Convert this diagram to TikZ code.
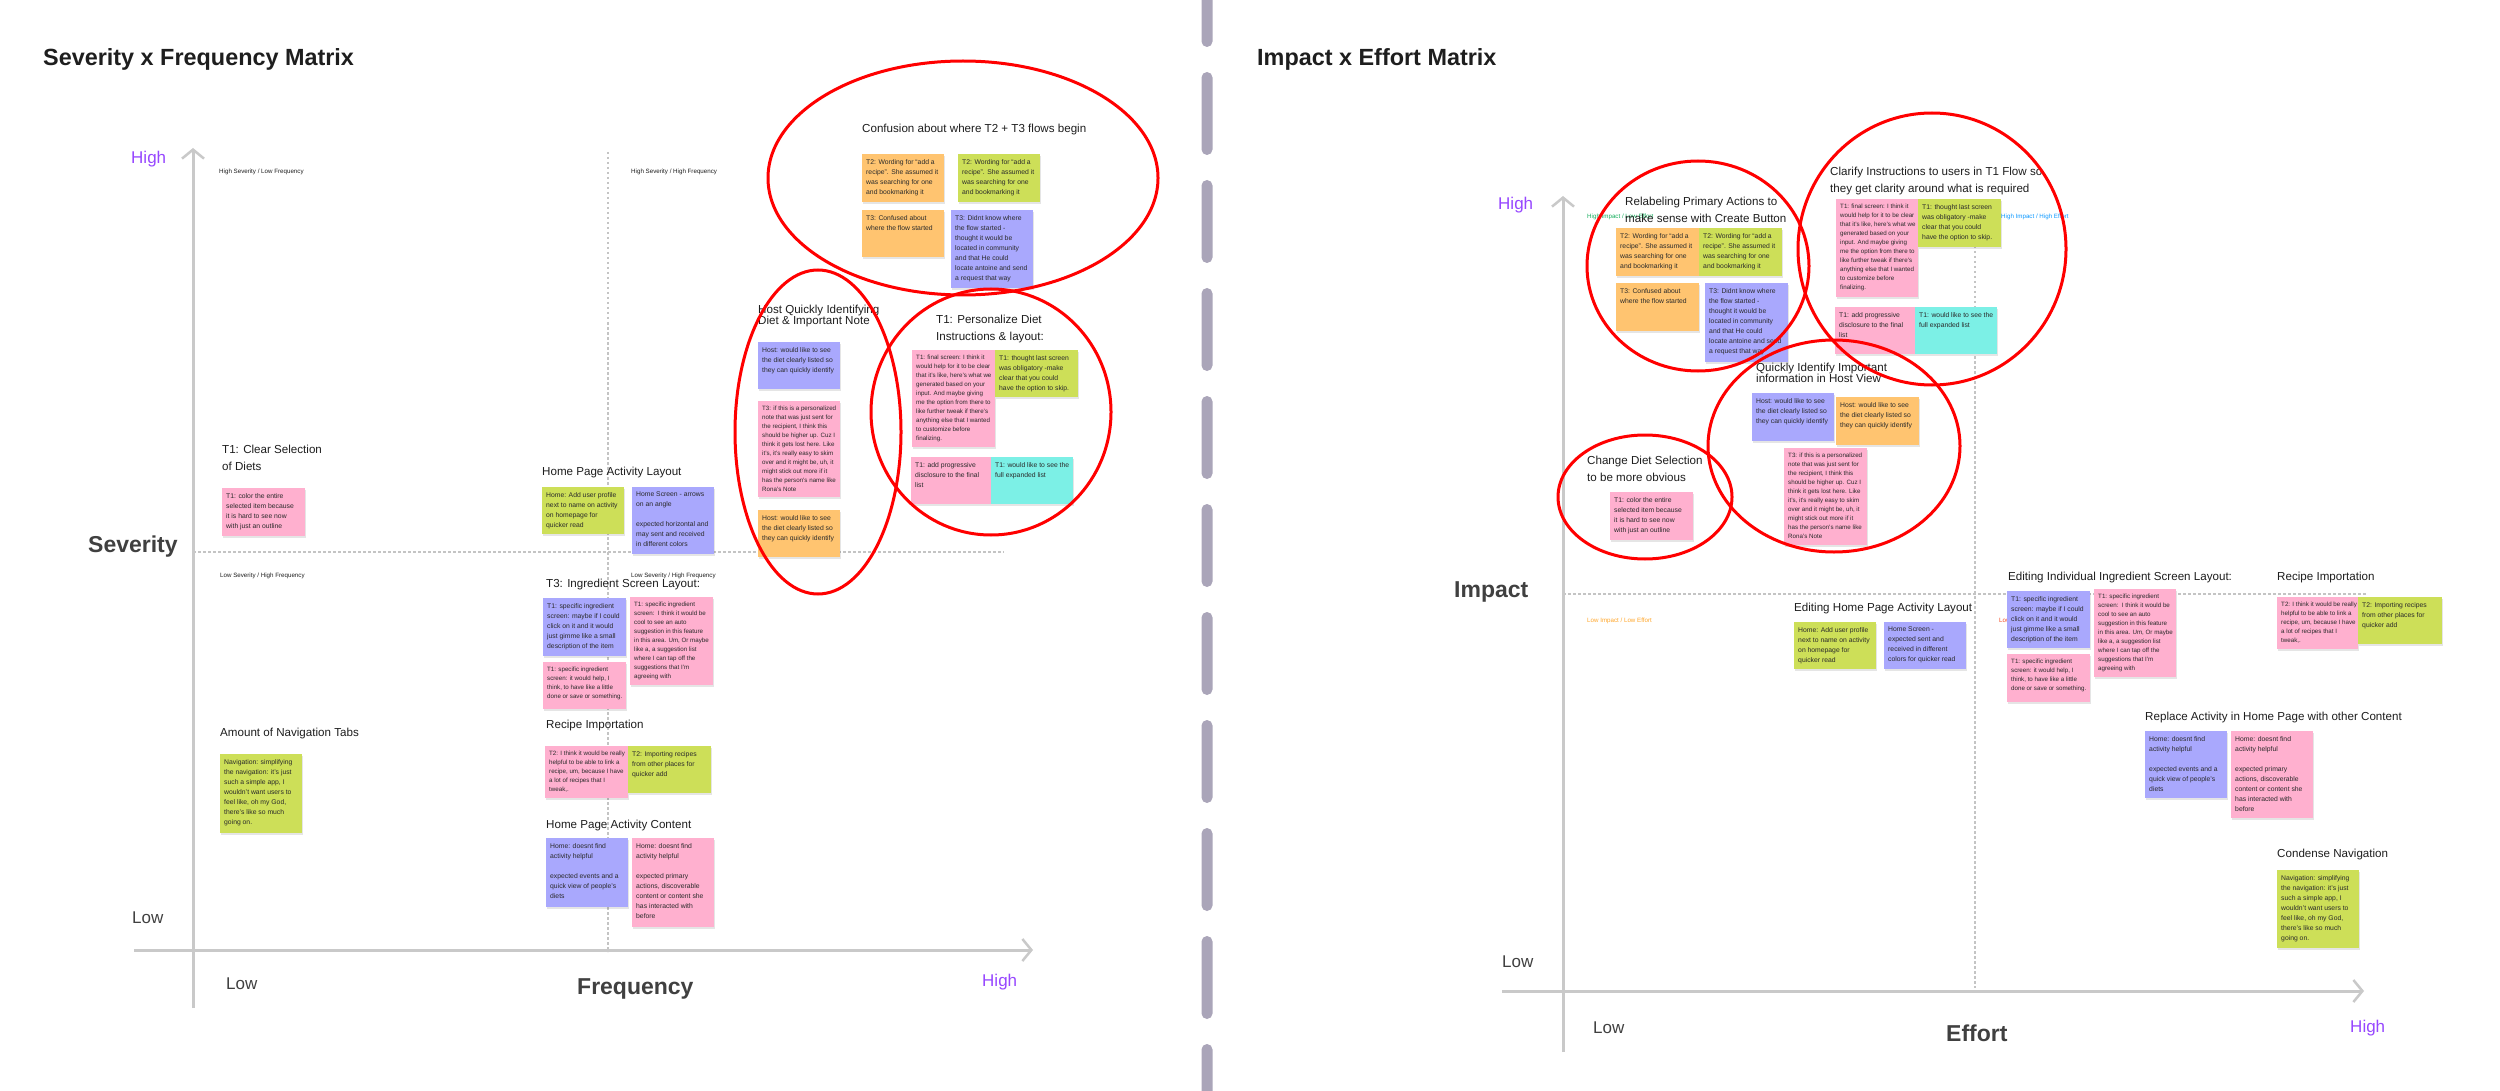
\documentclass[tikz,border=0pt]{standalone}
\usepackage{fontspec}
\setmainfont{Liberation Sans}
\usetikzlibrary{arrows.meta}
\definecolor{nOr}{HTML}{FFC470}
\definecolor{nGr}{HTML}{CDDF58}
\definecolor{nPu}{HTML}{A9A8FD}
\definecolor{nPk}{HTML}{FFB0CF}
\definecolor{nCy}{HTML}{7CF0E6}
\definecolor{notetxt}{HTML}{2A2A2A}
\definecolor{ttlc}{HTML}{1E1E1E}
\definecolor{axisc}{HTML}{C9C9C9}
\definecolor{dashc}{HTML}{C4C4C4}
\definecolor{pillc}{HTML}{AAA5B9}
\definecolor{hipur}{HTML}{9747FF}
\definecolor{qgreen}{HTML}{14AE5C}
\definecolor{qblue}{HTML}{0D99FF}
\definecolor{qorange}{HTML}{FFA629}
\definecolor{qred}{HTML}{F24822}
\tikzset{
  stickybox/.style={anchor=north west, inner sep=0pt, draw=none, rectangle},
  stickytext/.style={anchor=north west, inner sep=0pt, align=left, text=notetxt, font=\fontsize{6.8}{10}\selectfont},
  smalltxt/.style={font=\fontsize{6.2}{9}\selectfont},
  ttl/.style={inner sep=0pt, align=left, text=ttlc, font=\fontsize{11.6}{17}\selectfont},
  ttltight/.style={font=\fontsize{11.6}{11}\selectfont},
  bigttl/.style={inner sep=0pt, anchor=west, text=ttlc, font=\fontsize{23.4}{26}\selectfont\bfseries},
  axlab/.style={inner sep=0pt, anchor=west, text=ttlc!85, font=\fontsize{23}{26}\selectfont\bfseries},
  lowlab/.style={inner sep=0pt, anchor=west, text=ttlc!85, font=\fontsize{17}{20}\selectfont},
  highlab/.style={inner sep=0pt, anchor=west, text=hipur, font=\fontsize{17}{20}\selectfont},
  quad/.style={inner sep=0pt, anchor=west, font=\fontsize{6.2}{8}\selectfont},
  axisline/.style={draw=axisc, line width=3pt},
  axtip/.style={-{Straight Barb[length=9pt,width=22pt,line width=2.5pt]}},
  gridline/.style={draw=dashc, line width=1.1pt, dash pattern=on 2.5pt off 2.5pt},
  redring/.style={draw=red, line width=3pt},
  pill/.style={fill=pillc, rounded corners=5.5pt}
}
% name, x, y, w, h, colour, extra text style, text
\newcommand\stk[8]{%
  \fill[black, opacity=0.10] (#2+0.6,#3+1.6) rectangle ++(#4,#5);
  \node[stickybox, fill=#6, minimum width=#4pt, minimum height=#5pt] (#1) at (#2,#3) {};
  \node[stickytext, #7] (#1t) at ([xshift=4pt,yshift=-5pt]#1.north west) {#8};
}
\begin{document}
\begin{tikzpicture}[x=1pt,y=-1pt]
\useasboundingbox (0,0) rectangle (2500,1091);
\fill[white] (0,0) rectangle (2500,1091);

% separator pills
\foreach \py in {-36,72,180,288,396,504,612,720,828,936,1044}
  \fill[pill] (1201.5,\py) rectangle (1212.5,\py+83);

%================ LEFT MATRIX =================
\node[bigttl] (ltitle) at (43,59) {Severity x Frequency Matrix};

\draw[gridline] (608,152) -- (608,952);
\draw[gridline] (193,552) -- (1004,552);
\draw[axisline, axtip] (193,1008) -- (193,148);
\draw[axisline, axtip] (134,950) -- (1033,950);

\node[highlab] (lhigh) at (131,159) {High};
\node[axlab] (lsev) at (88,547) {Severity};
\node[lowlab] (llow) at (132,918) {Low};
\node[lowlab] (llowx) at (226,984) {Low};
\node[axlab] (lfreq) at (577,989) {Frequency};
\node[highlab] (lhighx) at (982,982) {High};

\node[quad, text=ttlc] (q1) at (219,172) {High Severity / Low Frequency};
\node[quad, text=ttlc] (q2) at (631,172) {High Severity / High Frequency};
\node[quad, text=ttlc] (q3) at (220,576) {Low Severity / High Frequency};
\node[quad, text=ttlc] (q4) at (631,576) {Low Severity / High Frequency};

% top ellipse cluster
\node[ttl, anchor=west] (tconf) at (862,130) {Confusion about where T2 + T3 flows begin};
\stk{a1}{862}{154}{82}{48}{nOr}{}{T2: Wording for “add a\\recipe”. She assumed it\\was searching for one\\and bookmarking it}
\stk{a2}{958}{154}{82}{48}{nGr}{}{T2: Wording for “add a\\recipe”. She assumed it\\was searching for one\\and bookmarking it}
\stk{a3}{862}{210}{82}{47}{nOr}{}{T3: Confused about\\where the flow started}
\stk{a4}{951}{210}{82}{78}{nPu}{}{T3: Didnt know where\\the flow started -\\thought it would be\\located in community\\and that He could\\locate antoine and send\\a request that way}

% host cluster
\node[ttl, ttltight, anchor=north west] (thost) at (758,305) {Host Quickly Identifying\\Diet \& Important Note};
\stk{b1}{758}{342}{82}{47}{nPu}{}{Host: would like to see\\the diet clearly listed so\\they can quickly identify}
\stk{b2}{758}{401}{82}{96}{nPk}{smalltxt}{T3: if this is a personalized\\note that was just sent for\\the recipient, I think this\\should be higher up. Cuz I\\think it gets lost here. Like\\it's, it's really easy to skim\\over and it might be, uh, it\\might stick out more if it\\has the person's name like\\Rona's Note}
\stk{b3}{758}{510}{82}{47}{nOr}{}{Host: would like to see\\the diet clearly listed so\\they can quickly identify}

% personalize cluster
\node[ttl, anchor=north west] (tpers) at (936,315) {T1: Personalize Diet\\Instructions \& layout:};
\stk{c1}{912}{350}{83}{97}{nPk}{smalltxt}{T1: final screen: I think it\\would help for it to be clear\\that it's like, here's what we\\generated based on your\\input. And maybe giving\\me the option from there to\\like further tweak if there's\\anything else that I wanted\\to customize before\\finalizing.}
\stk{c2}{995}{350}{83}{47}{nGr}{}{T1: thought last screen\\was obligatory -make\\clear that you could\\have the option to skip.}
\stk{c3}{911}{457}{80}{47}{nPk}{}{T1: add progressive\\disclosure to the final\\list}
\stk{c4}{991}{457}{82}{47}{nCy}{}{T1: would like to see the\\full expanded list}

% left side items
\node[ttl, anchor=north west] (tclear) at (222,445) {T1: Clear Selection\\of Diets};
\stk{d1}{222}{488}{83}{48}{nPk}{}{T1: color the entire\\selected item because\\it is hard to see now\\with just an outline}

\node[ttl, anchor=west] (thpal) at (542,472) {Home Page Activity Layout};
\stk{e1}{542}{487}{82}{47}{nGr}{}{Home: Add user profile\\next to name on activity\\on homepage for\\quicker read}
\stk{e2}{632}{487}{82}{67}{nPu}{}{Home Screen - arrows\\on an angle\\[10pt]expected horizontal and\\may sent and received\\in different colors}

\node[ttl, anchor=west] (tingr) at (546,584) {T3: Ingredient Screen Layout:};
\stk{f1}{543}{598}{83}{58}{nPu}{}{T1: specific ingredient\\screen: maybe if I could\\click on it and it would\\just gimme like a small\\description of the item}
\stk{f2}{630}{597}{83}{88}{nPk}{smalltxt}{T1: specific ingredient\\screen:\ \ I think it would be\\cool to see an auto\\suggestion in this feature\\in this area. Um, Or maybe\\like a, a suggestion list\\where I can tap off the\\suggestions that I'm\\agreeing with}
\stk{f3}{543}{662}{83}{47}{nPk}{smalltxt}{T1: specific ingredient\\screen: it would help, I\\think, to have like a little\\done or save or something.}

\node[ttl, anchor=west] (trec) at (546,725) {Recipe Importation};
\stk{g1}{545}{746}{83}{52}{nPk}{smalltxt}{T2: I think it would be really\\helpful to be able to link a\\recipe, um, because I have\\a lot of recipes that I\\tweak,.}
\stk{g2}{628}{746}{83}{47}{nGr}{}{T2: Importing recipes\\from other places for\\quicker add}

\node[ttl, anchor=west] (thpac) at (546,825) {Home Page Activity Content};
\stk{h1}{546}{838}{82}{69}{nPu}{}{Home: doesnt find\\activity helpful\\[10pt]expected events and a\\quick view of people's\\diets}
\stk{h2}{632}{838}{82}{89}{nPk}{}{Home: doesnt find\\activity helpful\\[10pt]expected primary\\actions, discoverable\\content or content she\\has interacted with\\before}

\node[ttl, anchor=west] (tnav) at (220,733) {Amount of Navigation Tabs};
\stk{i1}{220}{754}{82}{79}{nGr}{}{Navigation: simplifying\\the navigation: it's just\\such a simple app, I\\wouldn't want users to\\feel like, oh my God,\\there's like so much\\going on.}

% red rings left
\draw[redring] (963,178) ellipse [x radius=195, y radius=117];
\draw[redring] (818,432) ellipse [x radius=83, y radius=162];
\draw[redring] (991,412) ellipse [x radius=120, y radius=123];

%================ RIGHT MATRIX =================
\node[bigttl] (rtitle) at (1257,59) {Impact x Effort Matrix};

\draw[gridline] (1975,246) -- (1975,988);
\draw[gridline] (1563,594) -- (2366,594);
\draw[axisline, axtip] (1563,1052) -- (1563,196);
\draw[axisline, axtip] (1502,991) -- (2364,991);

\node[highlab] (rhigh) at (1498,205) {High};
\node[axlab] (rimp) at (1454,592) {Impact};
\node[lowlab] (rlow) at (1502,962) {Low};
\node[lowlab] (rlowx) at (1593,1028) {Low};
\node[axlab] (reff) at (1946,1033) {Effort};
\node[highlab] (rhighx) at (2350,1028) {High};

\node[quad, text=qgreen] (r1q) at (1587,217) {High Impact / Low Effort};
\node[quad, text=qblue] (r2q) at (2001,217) {High Impact / High Effort};
\node[quad, text=qorange] (r3q) at (1587,621) {Low Impact / Low Effort};
\node[quad, text=qred] (r4q) at (1999,621) {Low Impact / High Effort};

% relabeling cluster
\node[ttl, anchor=north west] (trel) at (1625,197) {Relabeling Primary Actions to\\make sense with Create Button};
\stk{r1}{1616}{228}{83}{48}{nOr}{}{T2: Wording for “add a\\recipe”. She assumed it\\was searching for one\\and bookmarking it}
\stk{r2}{1699}{228}{83}{48}{nGr}{}{T2: Wording for “add a\\recipe”. She assumed it\\was searching for one\\and bookmarking it}
\stk{r3}{1616}{283}{83}{48}{nOr}{}{T3: Confused about\\where the flow started}
\stk{r4}{1705}{283}{83}{79}{nPu}{}{T3: Didnt know where\\the flow started -\\thought it would be\\located in community\\and that He could\\locate antoine and send\\a request that way}

% clarify cluster
\node[ttl, anchor=north west] (tclar) at (1830,167) {Clarify Instructions to users in T1 Flow so\\they get clarity around what is required};
\stk{r5}{1836}{199}{82}{98}{nPk}{smalltxt}{T1: final screen: I think it\\would help for it to be clear\\that it's like, here's what we\\generated based on your\\input. And maybe giving\\me the option from there to\\like further tweak if there's\\anything else that I wanted\\to customize before\\finalizing.}
\stk{r6}{1918}{199}{83}{48}{nGr}{}{T1: thought last screen\\was obligatory -make\\clear that you could\\have the option to skip.}
\stk{r7}{1835}{307}{80}{47}{nPk}{}{T1: add progressive\\disclosure to the final\\list}
\stk{r8}{1915}{307}{82}{47}{nCy}{}{T1: would like to see the\\full expanded list}

% quickly identify cluster
\node[ttl, ttltight, anchor=north west] (tquick) at (1756,363) {Quickly Identify Important\\information in Host View};
\stk{r9}{1752}{393}{82}{48}{nPu}{}{Host: would like to see\\the diet clearly listed so\\they can quickly identify}
\stk{r10}{1836}{397}{83}{48}{nOr}{}{Host: would like to see\\the diet clearly listed so\\they can quickly identify}
\stk{r11}{1784}{448}{83}{97}{nPk}{smalltxt}{T3: if this is a personalized\\note that was just sent for\\the recipient, I think this\\should be higher up. Cuz I\\think it gets lost here. Like\\it's, it's really easy to skim\\over and it might be, uh, it\\might stick out more if it\\has the person's name like\\Rona's Note}

% change diet cluster
\node[ttl, anchor=north west] (tdiet) at (1587,456) {Change Diet Selection\\to be more obvious};
\stk{r12}{1610}{492}{83}{48}{nPk}{}{T1: color the entire\\selected item because\\it is hard to see now\\with just an outline}

% lower right items
\node[ttl, anchor=west] (tehp) at (1794,608) {Editing Home Page Activity Layout};
\stk{r13}{1794}{622}{82}{47}{nGr}{}{Home: Add user profile\\next to name on activity\\on homepage for\\quicker read}
\stk{r14}{1884}{622}{82}{47}{nPu}{}{Home Screen -\\expected sent and\\received in different\\colors for quicker read}

\node[ttl, anchor=west] (teii) at (2008,577) {Editing Individual Ingredient Screen Layout:};
\stk{r15}{2007}{591}{83}{57}{nPu}{}{T1: specific ingredient\\screen: maybe if I could\\click on it and it would\\just gimme like a small\\description of the item}
\stk{r16}{2094}{589}{82}{88}{nPk}{smalltxt}{T1: specific ingredient\\screen:\ \ I think it would be\\cool to see an auto\\suggestion in this feature\\in this area. Um, Or maybe\\like a, a suggestion list\\where I can tap off the\\suggestions that I'm\\agreeing with}
\stk{r17}{2007}{654}{83}{48}{nPk}{smalltxt}{T1: specific ingredient\\screen: it would help, I\\think, to have like a little\\done or save or something.}

\node[ttl, anchor=west] (trrec) at (2277,577) {Recipe Importation};
\stk{r18}{2277}{597}{81}{52}{nPk}{smalltxt}{T2: I think it would be really\\helpful to be able to link a\\recipe, um, because I have\\a lot of recipes that I\\tweak,.}
\stk{r19}{2358}{597}{84}{47}{nGr}{}{T2: Importing recipes\\from other places for\\quicker add}

\node[ttl, anchor=west] (trepl) at (2145,717) {Replace Activity in Home Page with other Content};
\stk{r20}{2145}{731}{82}{67}{nPu}{}{Home: doesnt find\\activity helpful\\[10pt]expected events and a\\quick view of people's\\diets}
\stk{r21}{2231}{731}{82}{87}{nPk}{}{Home: doesnt find\\activity helpful\\[10pt]expected primary\\actions, discoverable\\content or content she\\has interacted with\\before}

\node[ttl, anchor=west] (tcond) at (2277,854) {Condense Navigation};
\stk{r22}{2277}{870}{82}{78}{nGr}{}{Navigation: simplifying\\the navigation: it's just\\such a simple app, I\\wouldn't want users to\\feel like, oh my God,\\there's like so much\\going on.}

% red rings right
\draw[redring] (1698,266) ellipse [x radius=111, y radius=105];
\draw[redring] (1932,249) ellipse [x radius=134, y radius=136];
\draw[redring] (1834,446) ellipse [x radius=126, y radius=106];
\draw[redring] (1645,497) ellipse [x radius=87, y radius=62];
\end{tikzpicture}
\end{document}
